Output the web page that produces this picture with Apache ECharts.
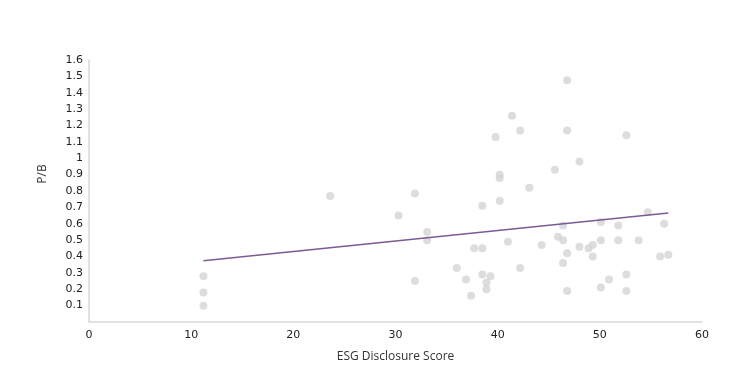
<!DOCTYPE html>
<html>
<head>
<meta charset="utf-8">
<script src="https://cdn.jsdelivr.net/npm/echarts@6/dist/echarts.min.js"></script>
<style>
html,body{margin:0;padding:0;background:#fff;}
#chart{width:744px;height:385px;}
</style>
</head>
<body>
<div id="chart"></div>
<script>
const esgScore = [11.2, 11.2, 11.2, 23.6, 31.9, 30.3, 31.9, 33.1, 33.1, 38.5, 40.2, 41.0, 44.3, 45.9, 46.4, 46.4, 37.7, 38.5, 36.0, 36.9, 38.5, 39.3, 38.9, 38.9, 37.4, 42.2, 46.8, 46.4, 46.8, 48.0, 48.9, 49.3, 49.3, 54.7, 50.1, 51.8, 56.3, 50.1, 51.8, 53.8, 55.9, 56.7, 50.9, 52.6, 50.1, 52.6, 46.8, 41.4, 42.2, 46.8, 39.8, 48.0, 45.6, 40.2, 40.2, 43.1, 52.6];
const pbRatio = [0.28, 0.18, 0.10, 0.77, 0.785, 0.65, 0.25, 0.55, 0.50, 0.71, 0.74, 0.49, 0.47, 0.52, 0.50, 0.59, 0.45, 0.45, 0.33, 0.26, 0.29, 0.28, 0.24, 0.20, 0.16, 0.33, 0.42, 0.36, 0.19, 0.46, 0.45, 0.47, 0.40, 0.67, 0.61, 0.59, 0.60, 0.50, 0.50, 0.50, 0.40, 0.41, 0.26, 0.29, 0.21, 0.19, 1.476, 1.26, 1.17, 1.17, 1.13, 0.98, 0.93, 0.90, 0.88, 0.82, 1.14];
const trendX = [11.2, 56.7];
const trendY = [0.374, 0.665];
const xTitle = 'ESG Disclosure Score';
const yTitle = 'P/B';

const scatterData = esgScore.map((x, i) => [x, pbRatio[i]]);
const trendData = trendX.map((x, i) => [x, trendY[i]]);

const chart = echarts.init(document.getElementById('chart'));
chart.setOption({
  animation: false,
  backgroundColor: '#fff',
  grid: {left: 89, right: 42, top: 60, bottom: 63},
  xAxis: {
    type: 'value', min: 0, max: 60, interval: 10,
    name: xTitle, nameLocation: 'middle', nameGap: 29,
    nameTextStyle: {fontFamily: 'Open Sans', fontSize: 12, color: '#333'},
    axisLine: {lineStyle: {color: '#d9d9d9', width: 1.5}},
    axisTick: {show: false},
    splitLine: {show: false},
    axisLabel: {fontFamily: 'DejaVu Sans', fontSize: 11, color: '#222', margin: 8}
  },
  yAxis: {
    type: 'value', min: 0, max: 1.6, interval: 0.1,
    axisLine: {show: true, lineStyle: {color: '#d9d9d9', width: 1.5}},
    axisTick: {show: false},
    splitLine: {show: false},
    axisLabel: {fontFamily: 'DejaVu Sans', fontSize: 11, color: '#222', margin: 6,
      formatter: v => v === 0 ? '' : String(Math.round(v * 10) / 10)}
  },
  graphic: [{
    type: 'text', x: 43, y: 174, rotation: Math.PI / 2,
    style: {text: yTitle, fontFamily: 'Open Sans', fontSize: 12, fill: '#333', align: 'center', verticalAlign: 'middle'}
  }],
  series: [
    {type: 'scatter', data: scatterData, symbolSize: 8, itemStyle: {color: '#d4d4d4'}, z: 2},
    {type: 'line', data: trendData, symbol: 'none', lineStyle: {color: '#7b5a95', width: 1.5}, z: 3}
  ]
});
</script>
</body>
</html>
